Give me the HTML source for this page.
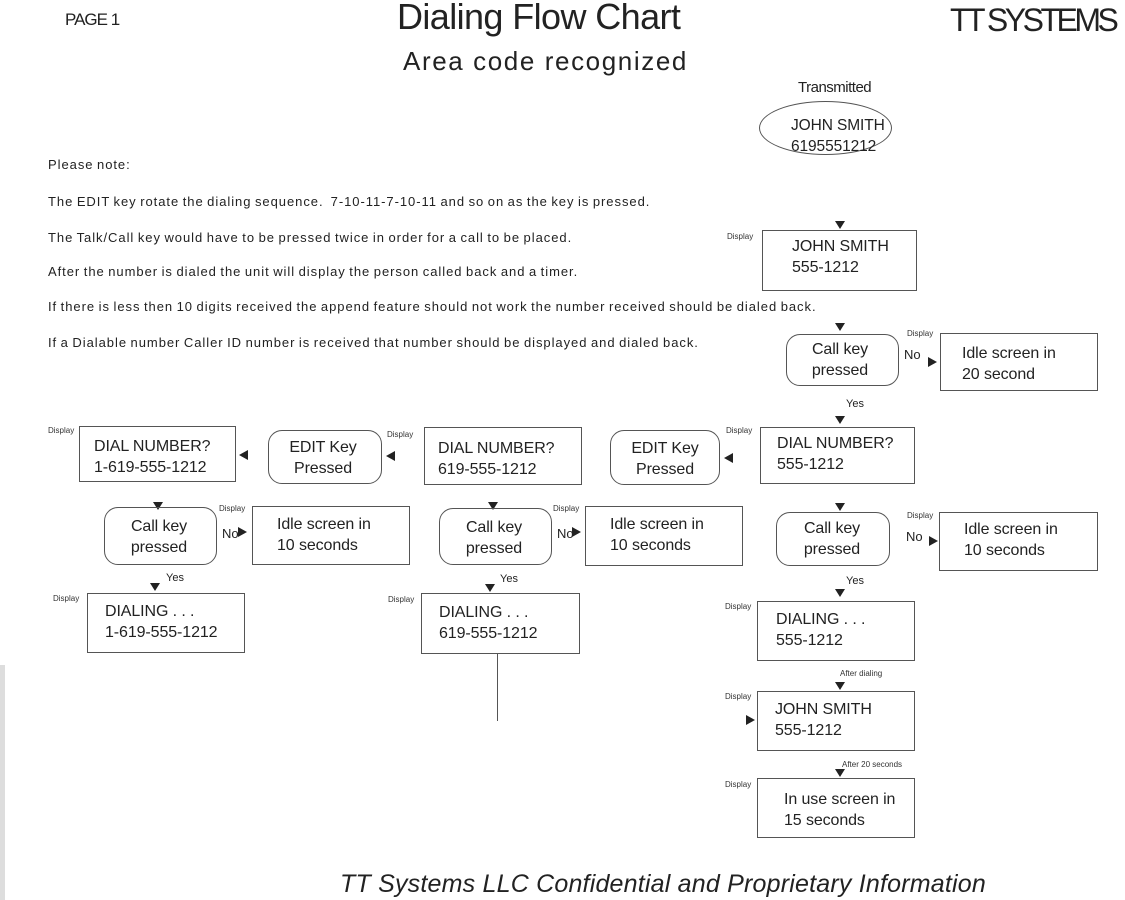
<!DOCTYPE html>
<html><head><meta charset="utf-8"><style>
body{margin:0;width:1125px;height:900px;background:#fff;position:relative;overflow:hidden;font-family:"Liberation Sans",sans-serif;color:#222}
div,span{position:absolute}
.b{border:1px solid #555;box-sizing:border-box}
.r{border:1px solid #555;border-radius:14px;box-sizing:border-box}
.t{font-size:16px;line-height:21px;letter-spacing:-0.1px;white-space:nowrap}
.s{font-size:8px;white-space:nowrap;color:#333}
.n{font-size:13px;white-space:nowrap;letter-spacing:0.95px;word-spacing:-1px}
.d{width:0;height:0;border-left:5px solid transparent;border-right:5px solid transparent;border-top:8px solid #222}
.l{width:0;height:0;border-top:5px solid transparent;border-bottom:5px solid transparent;border-right:9px solid #222}
.g{width:0;height:0;border-top:5px solid transparent;border-bottom:5px solid transparent;border-left:9px solid #222}
.c{text-align:center}
</style></head><body>
<span style="left:65px;top:10px;font-size:17px;letter-spacing:-1px">PAGE 1</span>
<span style="left:397px;top:-4px;font-size:36px;letter-spacing:-0.6px">Dialing Flow Chart</span>
<span style="left:403px;top:46px;font-size:26px;letter-spacing:1.6px">Area code recognized</span>
<span style="left:950px;top:2px;font-size:32px;letter-spacing:-3.5px">TT SYSTEMS</span>
<span style="left:798px;top:79px;font-size:15px;letter-spacing:-0.5px">Transmitted</span>
<div style="left:759px;top:101px;width:133px;height:54px;border:1px solid #555;border-radius:50%;box-sizing:border-box"></div>
<span class="t" style="left:791px;top:115px;font-size:15.5px">JOHN SMITH<br>6195551212</span>

<span class="n" style="left:48px;top:157px">Please note:</span>
<span class="n" style="left:48px;top:194px">The EDIT key rotate the dialing sequence.&nbsp; 7-10-11-7-10-11 and so on as the key is pressed.</span>
<span class="n" style="left:48px;top:230px">The Talk/Call key would have to be pressed twice in order for a call to be placed.</span>
<span class="n" style="left:48px;top:264px">After the number is dialed the unit will display the person called back and a timer.</span>
<span class="n" style="left:48px;top:299px">If there is less then 10 digits received the append feature should not work the number received should be dialed back.</span>
<span class="n" style="left:48px;top:335px">If a Dialable number Caller ID number is received that number should be displayed and dialed back.</span>

<div class="d" style="left:835px;top:221px"></div>
<span class="s" style="left:727px;top:232px">Display</span>
<div class="b" style="left:762px;top:230px;width:155px;height:61px"></div>
<span class="t" style="left:792px;top:236px">JOHN SMITH<br>555-1212</span>

<div class="d" style="left:835px;top:323px"></div>
<div class="r" style="left:786px;top:334px;width:113px;height:52px"></div>
<span class="t c" style="left:786px;top:339px;width:108px">Call key<br>pressed</span>
<span class="n" style="left:904px;top:347px;letter-spacing:0">No</span>
<div class="g" style="left:928px;top:357px"></div>
<span class="s" style="left:907px;top:329px">Display</span>
<div class="b" style="left:940px;top:333px;width:158px;height:58px"></div>
<span class="t" style="left:962px;top:343px">Idle screen in<br>20 second</span>
<span class="n" style="left:846px;top:398px;font-size:11px;letter-spacing:0">Yes</span>
<div class="d" style="left:835px;top:416px"></div>

<span class="s" style="left:726px;top:426px">Display</span>
<div class="b" style="left:760px;top:427px;width:155px;height:57px"></div>
<span class="t" style="left:777px;top:433px">DIAL NUMBER?<br>555-1212</span>
<div class="l" style="left:724px;top:453px"></div>

<div class="r" style="left:610px;top:430px;width:110px;height:55px"></div>
<span class="t c" style="left:610px;top:438px;width:110px">EDIT Key<br>Pressed</span>
<div class="b" style="left:424px;top:427px;width:158px;height:58px"></div>
<span class="t" style="left:438px;top:438px">DIAL NUMBER?<br>619-555-1212</span>
<div class="l" style="left:386px;top:451px"></div>

<div class="r" style="left:268px;top:430px;width:114px;height:54px"></div>
<span class="t c" style="left:268px;top:437px;width:110px">EDIT Key<br>Pressed</span>
<span class="s" style="left:48px;top:426px">Display</span>
<div class="b" style="left:79px;top:426px;width:157px;height:56px"></div>
<span class="t" style="left:94px;top:436px">DIAL NUMBER?<br>1-619-555-1212</span>
<div class="l" style="left:239px;top:450px"></div>
<span class="s" style="left:387px;top:430px">Display</span>

<div class="d" style="left:153px;top:502px"></div>
<div class="r" style="left:104px;top:507px;width:113px;height:58px"></div>
<span class="t c" style="left:104px;top:516px;width:110px">Call key<br>pressed</span>
<span class="n" style="left:222px;top:526px;letter-spacing:0">No</span>
<div class="g" style="left:238px;top:527px"></div>
<span class="s" style="left:219px;top:504px">Display</span>
<div class="b" style="left:252px;top:506px;width:158px;height:59px"></div>
<span class="t" style="left:277px;top:514px">Idle screen in<br>10 seconds</span>
<span class="n" style="left:166px;top:572px;font-size:11px;letter-spacing:0">Yes</span>
<div class="d" style="left:150px;top:583px"></div>

<div class="d" style="left:488px;top:502px"></div>
<div class="r" style="left:439px;top:508px;width:113px;height:57px"></div>
<span class="t c" style="left:439px;top:517px;width:110px">Call key<br>pressed</span>
<span class="n" style="left:557px;top:526px;letter-spacing:0">No</span>
<div class="g" style="left:572px;top:527px"></div>
<span class="s" style="left:553px;top:504px">Display</span>
<div class="b" style="left:585px;top:506px;width:158px;height:60px"></div>
<span class="t" style="left:610px;top:514px">Idle screen in<br>10 seconds</span>
<span class="n" style="left:500px;top:573px;font-size:11px;letter-spacing:0">Yes</span>
<div class="d" style="left:485px;top:584px"></div>

<div class="d" style="left:835px;top:503px"></div>
<div class="r" style="left:776px;top:512px;width:114px;height:54px"></div>
<span class="t c" style="left:776px;top:518px;width:112px">Call key<br>pressed</span>
<span class="n" style="left:906px;top:529px;letter-spacing:0">No</span>
<div class="g" style="left:929px;top:536px"></div>
<span class="s" style="left:907px;top:511px">Display</span>
<div class="b" style="left:939px;top:512px;width:159px;height:59px"></div>
<span class="t" style="left:964px;top:519px">Idle screen in<br>10 seconds</span>
<span class="n" style="left:846px;top:575px;font-size:11px;letter-spacing:0">Yes</span>
<div class="d" style="left:835px;top:589px"></div>

<span class="s" style="left:53px;top:594px">Display</span>
<div class="b" style="left:87px;top:593px;width:158px;height:60px"></div>
<span class="t" style="left:105px;top:601px">DIALING . . .<br>1-619-555-1212</span>
<span class="s" style="left:388px;top:595px">Display</span>
<div class="b" style="left:421px;top:593px;width:159px;height:61px"></div>
<span class="t" style="left:439px;top:602px">DIALING . . .<br>619-555-1212</span>
<div style="left:497px;top:654px;width:1px;height:67px;background:#555"></div>
<span class="s" style="left:725px;top:602px">Display</span>
<div class="b" style="left:757px;top:601px;width:158px;height:60px"></div>
<span class="t" style="left:776px;top:609px">DIALING . . .<br>555-1212</span>

<span class="s" style="left:840px;top:669px">After dialing</span>
<div class="d" style="left:835px;top:682px"></div>
<span class="s" style="left:725px;top:692px">Display</span>
<div class="g" style="left:746px;top:715px"></div>
<div class="b" style="left:757px;top:691px;width:158px;height:60px"></div>
<span class="t" style="left:775px;top:699px">JOHN SMITH<br>555-1212</span>

<span class="s" style="left:842px;top:760px">After 20 seconds</span>
<div class="d" style="left:835px;top:769px"></div>
<span class="s" style="left:725px;top:780px">Display</span>
<div class="b" style="left:757px;top:778px;width:158px;height:60px"></div>
<span class="t" style="left:784px;top:789px">In use screen in<br>15 seconds</span>

<span style="left:340px;top:870px;font-size:25px;font-style:italic;letter-spacing:0.2px">TT Systems LLC Confidential and Proprietary Information</span>
<div style="left:0;top:665px;width:5px;height:235px;background:#ddd"></div>
</body></html>
